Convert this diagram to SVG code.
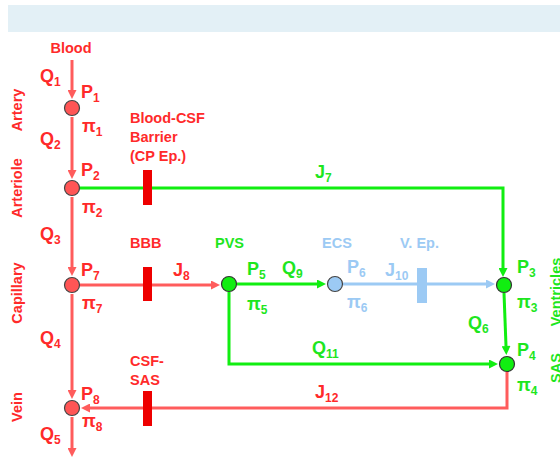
<svg xmlns="http://www.w3.org/2000/svg" width="560" height="458" viewBox="0 0 560 458">
<defs>
<style>
text{font-family:"Liberation Sans",Arial,sans-serif;font-weight:bold}
.r{fill:#ff2a2a}.g{fill:#1ee61e}.b{fill:#9ccaf4}
.big{font-size:18px}.sm{font-size:14.5px}
.sub{font-size:12px}
.lr{fill:none;stroke:#ff5c5c;stroke-width:3}
.lg{fill:none;stroke:#11ee11;stroke-width:3}
.lb{fill:none;stroke:#9ccaf4;stroke-width:3}
.nr{fill:#ff5555;stroke:#444;stroke-width:1.2}
.ng{fill:#11ee11;stroke:#333;stroke-width:1.2}
.nb{fill:#9ccaf4;stroke:#444;stroke-width:1.2}
</style>
<marker id="ar" viewBox="0 0 10 10" refX="0" refY="5" markerWidth="10" markerHeight="9" markerUnits="userSpaceOnUse" orient="auto"><path d="M0,0L10,5L0,10z" fill="#ff5c5c"/></marker>
<marker id="ag" viewBox="0 0 10 10" refX="0" refY="5" markerWidth="10" markerHeight="9" markerUnits="userSpaceOnUse" orient="auto"><path d="M0,0L10,5L0,10z" fill="#11ee11"/></marker>
<marker id="ab" viewBox="0 0 10 10" refX="0" refY="5" markerWidth="10" markerHeight="9" markerUnits="userSpaceOnUse" orient="auto"><path d="M0,0L10,5L0,10z" fill="#9ccaf4"/></marker>
</defs>
<rect x="8" y="5" width="552" height="27" fill="#e3f0f6"/>
<g id="connectors">
<path class="lr" d="M72,60V90" marker-end="url(#ar)"/>
<path class="lr" d="M72,117V170" marker-end="url(#ar)"/>
<path class="lr" d="M72,197V267" marker-end="url(#ar)"/>
<path class="lr" d="M72,294V390" marker-end="url(#ar)"/>
<path class="lr" d="M72,417V448" marker-end="url(#ar)"/>
<path class="lr" d="M80,285H211" marker-end="url(#ar)"/>
<path class="lg" d="M79,188H503V268" marker-end="url(#ag)"/>
<path class="lg" d="M237,284H317" marker-end="url(#ag)"/>
<path class="lb" d="M343,284H486" marker-end="url(#ab)"/>
<path class="lg" d="M504,293L506,346" marker-end="url(#ag)"/>
<path class="lg" d="M229,292V364H489" marker-end="url(#ag)"/>
<path class="lr" d="M507,372V408H90" marker-end="url(#ar)"/>
</g>
<g id="barriers">
<rect x="143" y="170" width="9" height="35" fill="#ee0000"/>
<rect x="143" y="267" width="9" height="34" fill="#ee0000"/>
<rect x="143" y="391" width="9" height="35" fill="#ee0000"/>
<rect x="417" y="268" width="10" height="35" fill="#9ccaf4"/>
</g>
<g id="P1"><circle class="nr" cx="72" cy="108" r="7.5"/></g>
<g id="P2"><circle class="nr" cx="72" cy="188" r="7.5"/></g>
<g id="P7"><circle class="nr" cx="72" cy="285" r="7.5"/></g>
<g id="P8"><circle class="nr" cx="72" cy="408" r="7.5"/></g>
<g id="P5"><circle class="ng" cx="229" cy="284" r="7.5"/></g>
<g id="P6"><circle class="nb" cx="335" cy="284" r="7.5"/></g>
<g id="P3"><circle class="ng" cx="504" cy="285" r="7.5"/></g>
<g id="P4"><circle class="ng" cx="507" cy="364" r="7.5"/></g>
<g id="labels">
<text class="r sm" x="71" y="53" text-anchor="middle">Blood</text>
<text class="r big" x="40" y="82">Q<tspan class="sub" dy="4">1</tspan></text>
<text class="r big" x="81" y="98">P<tspan class="sub" dy="4">1</tspan></text>
<text class="r big" x="82" y="132">π<tspan class="sub" dy="4">1</tspan></text>
<text class="r big" x="40" y="145">Q<tspan class="sub" dy="4">2</tspan></text>
<text class="r big" x="81" y="176">P<tspan class="sub" dy="4">2</tspan></text>
<text class="r big" x="82" y="213">π<tspan class="sub" dy="4">2</tspan></text>
<text class="r big" x="40" y="240">Q<tspan class="sub" dy="4">3</tspan></text>
<text class="r big" x="81" y="276">P<tspan class="sub" dy="4">7</tspan></text>
<text class="r big" x="82" y="309">π<tspan class="sub" dy="4">7</tspan></text>
<text class="r big" x="40" y="344">Q<tspan class="sub" dy="4">4</tspan></text>
<text class="r big" x="81" y="400">P<tspan class="sub" dy="4">8</tspan></text>
<text class="r big" x="82" y="427">π<tspan class="sub" dy="4">8</tspan></text>
<text class="r big" x="40" y="440">Q<tspan class="sub" dy="4">5</tspan></text>
<text class="r sm" x="130" y="123">Blood-CSF</text>
<text class="r sm" x="130" y="142">Barrier</text>
<text class="r sm" x="130" y="161">(CP Ep.)</text>
<text class="r sm" x="130" y="248">BBB</text>
<text class="r sm" x="130" y="366">CSF-</text>
<text class="r sm" x="130" y="385">SAS</text>
<text class="g big" x="315" y="178">J<tspan class="sub" dy="4">7</tspan></text>
<text class="r big" x="173" y="276">J<tspan class="sub" dy="4">8</tspan></text>
<text class="g sm" x="215" y="248">PVS</text>
<text class="g big" x="247" y="275">P<tspan class="sub" dy="4">5</tspan></text>
<text class="g big" x="247" y="310">π<tspan class="sub" dy="4">5</tspan></text>
<text class="g big" x="282" y="274">Q<tspan class="sub" dy="4">9</tspan></text>
<text class="b sm" x="322" y="248">ECS</text>
<text class="b big" x="347" y="273">P<tspan class="sub" dy="4">6</tspan></text>
<text class="b big" x="347" y="308">π<tspan class="sub" dy="4">6</tspan></text>
<text class="b big" x="385" y="276">J<tspan class="sub" dy="4">10</tspan></text>
<text class="b sm" x="400" y="248">V. Ep.</text>
<text class="g big" x="517" y="273">P<tspan class="sub" dy="4">3</tspan></text>
<text class="g big" x="517" y="308">π<tspan class="sub" dy="4">3</tspan></text>
<text class="g big" x="468" y="329">Q<tspan class="sub" dy="4">6</tspan></text>
<text class="g big" x="517" y="356">P<tspan class="sub" dy="4">4</tspan></text>
<text class="g big" x="517" y="391">π<tspan class="sub" dy="4">4</tspan></text>
<text class="g big" x="312" y="354">Q<tspan class="sub" dy="4">11</tspan></text>
<text class="r big" x="315" y="398">J<tspan class="sub" dy="4">12</tspan></text>
<text class="r sm" text-anchor="middle" transform="translate(22,110) rotate(-90)">Artery</text>
<text class="r sm" text-anchor="middle" transform="translate(22,188) rotate(-90)">Arteriole</text>
<text class="r sm" text-anchor="middle" transform="translate(22,293) rotate(-90)">Capillary</text>
<text class="r sm" text-anchor="middle" transform="translate(22,407) rotate(-90)">Vein</text>
<text class="g sm" text-anchor="middle" transform="translate(561,292) rotate(-90)">Ventricles</text>
<text class="g sm" text-anchor="middle" transform="translate(561,368) rotate(-90)">SAS</text>
</g>
</svg>
